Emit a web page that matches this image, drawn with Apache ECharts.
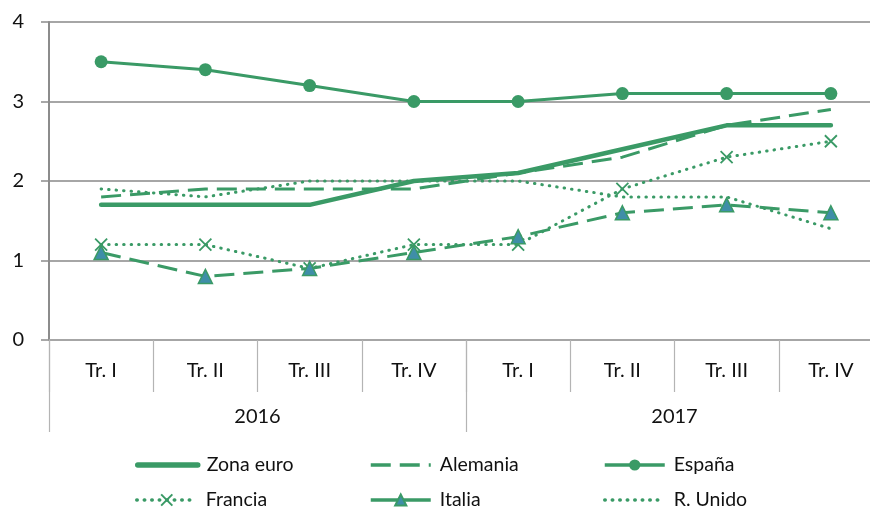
<!DOCTYPE html>
<html>
<head>
<meta charset="utf-8">
<script src="https://cdn.jsdelivr.net/npm/echarts@6/dist/echarts.min.js"></script>
<style>
  html, body { margin: 0; padding: 0; background: #fff; }
  #chart { width: 870px; height: 509px; }
</style>
</head>
<body>
<div id="chart"></div>
<script>
// datos
var quarters = ["Tr. I", "Tr. II", "Tr. III", "Tr. IV", "Tr. I", "Tr. II", "Tr. III", "Tr. IV"];
var years = ["2016", "2017"];
var zonaEuro = [1.7, 1.7, 1.7, 2.0, 2.1, 2.4, 2.7, 2.7];
var alemania = [1.8, 1.9, 1.9, 1.9, 2.1, 2.3, 2.7, 2.9];
var espana = [3.5, 3.4, 3.2, 3.0, 3.0, 3.1, 3.1, 3.1];
var francia = [1.2, 1.2, 0.9, 1.2, 1.2, 1.9, 2.3, 2.5];
var italia = [1.1, 0.8, 0.9, 1.1, 1.3, 1.6, 1.7, 1.6];
var rUnido = [1.9, 1.8, 2.0, 2.0, 2.0, 1.8, 1.8, 1.4];

var green = "#3a9a66";
var font = "Lato, 'Open Sans', sans-serif";
var gridGray = "#a6a6a6";

var chart = echarts.init(document.getElementById("chart"));

function legendAt(name, left, top, extra) {
  var l = {
    data: [name],
    left: left,
    top: top,
    itemWidth: 60,
    itemHeight: 14,
    itemGap: 4,
    padding: 0,
    lineStyle: { width: 3.5 },
    textStyle: { fontFamily: font, fontSize: 19.5, color: "#111", padding: [0, 0, 0, 4] }
  };
  if (extra) Object.assign(l, extra);
  return l;
}

var option = {
  animation: false,
  textStyle: { fontFamily: font },
  grid: { left: 49, top: 22, width: 834, height: 318, outerBoundsMode: "none" },
  legend: [
    legendAt("Zona euro", 135, 455, { itemStyle: { opacity: 0 }, lineStyle: { width: 5.5 } }),
    legendAt("Alemania", 369, 455, { itemStyle: { opacity: 0 } }),
    legendAt("España", 603, 455),
    legendAt("Francia", 135, 490),
    legendAt("Italia", 369, 490, { lineStyle: { type: "solid", width: 3.5 } }),
    legendAt("R. Unido", 603, 490, { itemStyle: { opacity: 0 } })
  ],
  xAxis: [
    {
      type: "category",
      data: quarters,
      position: "bottom",
      boundaryGap: true,
      axisLine: { lineStyle: { color: gridGray, width: 2 } },
      axisTick: { show: true, interval: 0, length: 52, lineStyle: { color: "#b4b4b4", width: 1.2 } },
      axisLabel: { interval: 0, margin: 21, fontSize: 20, color: "#111", fontFamily: font }
    },
    {
      type: "category",
      data: years,
      position: "bottom",
      boundaryGap: true,
      axisLine: { show: false },
      axisTick: { show: true, interval: 0, length: 92, lineStyle: { color: "#b4b4b4", width: 1.2 } },
      axisLabel: { interval: 0, margin: 67, fontSize: 20, color: "#111", fontFamily: font }
    }
  ],
  yAxis: {
    type: "value",
    min: 0,
    max: 4,
    interval: 1,
    axisLine: { show: true, lineStyle: { color: "#8c8c8c", width: 2 } },
    axisTick: { show: true, length: 8, lineStyle: { color: "#8c8c8c", width: 1.5 } },
    axisLabel: { margin: 25, fontSize: 20, color: "#111", fontFamily: font },
    splitLine: { show: true, lineStyle: { color: gridGray, width: 2 } }
  },
  series: [
    {
      name: "Zona euro",
      type: "line",
      data: zonaEuro,
      symbol: "none",
      lineStyle: { color: green, width: 4.5, cap: "round" },
      itemStyle: { color: green },
      z: 3
    },
    {
      name: "Alemania",
      type: "line",
      data: alemania,
      symbol: "none",
      lineStyle: { color: green, width: 3, type: [20, 9] },
      itemStyle: { color: green },
      z: 2
    },
    {
      name: "España",
      type: "line",
      data: espana,
      symbol: "circle",
      symbolSize: 13,
      lineStyle: { color: green, width: 3 },
      itemStyle: { color: green },
      z: 4
    },
    {
      name: "Francia",
      type: "line",
      data: francia,
      symbol: "path://M0,0L10,10M10,0L0,10",
      symbolSize: 12,
      lineStyle: { color: green, width: 3, type: [0.5, 7], cap: "round" },
      itemStyle: { color: "none", borderColor: green, borderWidth: 1.8 },
      z: 2
    },
    {
      name: "Italia",
      type: "line",
      data: italia,
      symbol: "triangle",
      symbolSize: 14,
      lineStyle: { color: green, width: 3, type: [20, 9] },
      itemStyle: { color: "#3f8ea8", borderColor: green, borderWidth: 1.5 },
      z: 3
    },
    {
      name: "R. Unido",
      type: "line",
      data: rUnido,
      symbol: "none",
      lineStyle: { color: green, width: 3, type: [0.5, 7], cap: "round" },
      itemStyle: { color: green },
      z: 2
    }
  ]
};

chart.setOption(option);
</script>
</body>
</html>
